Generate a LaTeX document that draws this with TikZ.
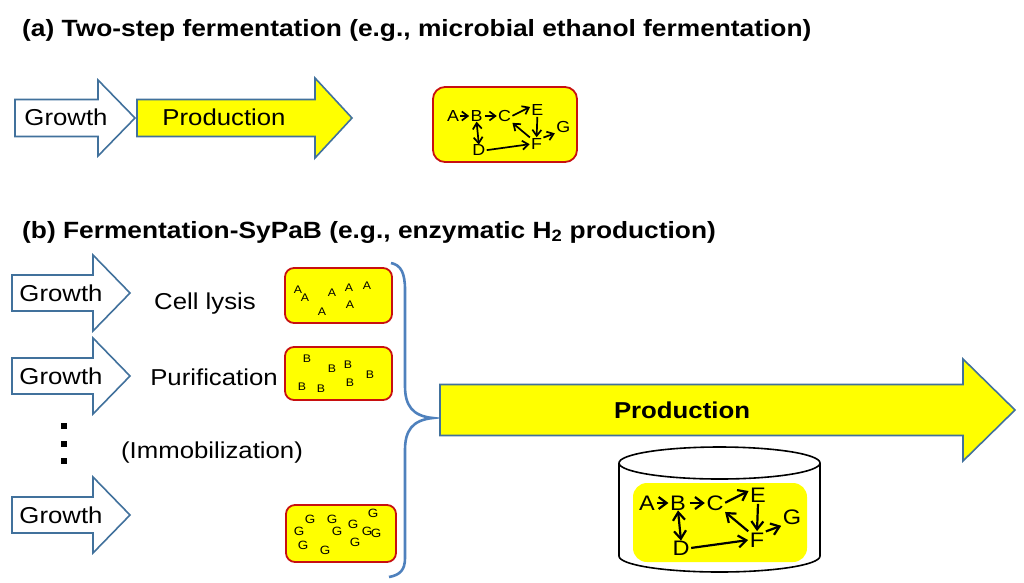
\documentclass[tikz,border=0pt]{standalone}
\usepackage{fontspec}
\setmainfont{Liberation Sans}[FakeStretch=1.12]
\usetikzlibrary{arrows.meta}
\definecolor{arrblue}{RGB}{65,113,156}
\definecolor{braceblue}{RGB}{79,129,189}
\definecolor{boxred}{RGB}{200,16,16}
\definecolor{yel}{RGB}{255,255,0}
\newcommand\blockarr[7]{% x0, xh, xt, yc, bh, hh, fill
  \draw[arrow line, fill=#7] (#1,#4-#5) -- (#2,#4-#5) -- (#2,#4-#6) -- (#3,#4) -- (#2,#4+#6) -- (#2,#4+#5) -- (#1,#4+#5) -- cycle;}
\newcommand\netw[6]{% shift, scale, prefix, line width, head length, head width
  \begin{scope}[shift={#1}, scale=#2, transform shape,
      na/.style={-{Straight Barb[length=#5,width=#6]}, line width=#4, shorten >=0.5pt, shorten <=0.5pt},
      nb/.style={{Straight Barb[length=#5,width=#6]}-{Straight Barb[length=#5,width=#6]}, line width=#4}]
    \node[lt] (#3A) at (0,0) {A};
    \node[lt] (#3B) at (31,0) {B};
    \node[lt] (#3C) at (68,0) {C};
    \node[lt] (#3E) at (111,-8) {E};
    \node[lt] (#3G) at (145,14) {G};
    \node[lt] (#3F) at (110,37) {F};
    \node[lt] (#3D) at (34,45) {D};
    \draw[na] (#3A.east) -- (#3B.west);
    \draw[na] ([xshift=2pt]#3B.east) -- (#3C.west);
    \draw[na] (#3C.east) -- (#3E.155);
    \draw[na] (#3E.south) -- (#3F.north);
    \draw[na] (#3F.north west) -- (#3C.south east);
    \draw[na] (#3D.east) -- (#3F.west);
    \draw[na] (#3F.north east) -- (#3G.south west);
    \draw[nb] ([yshift=1pt]#3B.south) -- ([yshift=-1pt]#3D.north);
  \end{scope}}
\begin{document}
\begin{tikzpicture}[x=1pt,y=-1pt,
  arrow line/.style={draw=arrblue, line width=1.6pt, line join=miter},
  lbl/.style={font=\fontsize{23}{23}\selectfont, inner sep=0pt},
  title/.style={font=\fontsize{23.5}{24}\selectfont\bfseries, anchor=west, inner sep=0pt},
  lt/.style={font=\fontsize{21}{21}\selectfont, inner sep=1pt},
  redbox/.style={draw=boxred, fill=yel, line width=1.8pt, rounded corners=9pt},
  small/.style={font=\fontsize{11}{11}\selectfont, inner sep=0pt},
  brace/.style={draw=braceblue, line width=2.6pt}]
\useasboundingbox (0,0) rectangle (1024,582);

% (a)
\node[title] (ta) at (22,30) {(a) Two-step fermentation (e.g., microbial ethanol fermentation)};
\blockarr{15}{98}{135}{118}{18.5}{38}{white}
\node[lbl] (ga) at (66,117) {Growth};
\blockarr{137}{315}{352}{118}{18.5}{40}{yel}
\node[lbl] (pa) at (224,117) {Production};
\draw[redbox, rounded corners=12pt] (433,87) rectangle (577,162);
\netw{(453,116)}{0.76}{a}{1.7pt}{6pt}{9pt}

% (b)
\node[title] (tb) at (22,232) {(b) Fermentation-SyPaB (e.g., enzymatic H\textsubscript{2} production)};
\blockarr{12}{93}{130}{293}{18}{38}{white}
\node[lbl] (g1) at (61,293) {Growth};
\blockarr{12}{93}{130}{376}{18}{38}{white}
\node[lbl] (g2) at (61,376) {Growth};
\blockarr{12}{93}{130}{515}{18}{38}{white}
\node[lbl] (g3) at (61,515) {Growth};

\fill (61,423) rectangle (67,429);
\fill (61,441) rectangle (67,447);
\fill (61,458) rectangle (67,464);

\node[lbl] (cl) at (205,304) {Cell lysis};
\node[lbl] (pu) at (214,377) {Purification};
\node[lbl] (im) at (212,453) {(Immobilization)};

% box A
\draw[redbox] (285,268) rectangle (392,323);
\foreach \x/\y [count=\i] in {298/290, 305/298, 332/293, 349/288, 367/286, 322/312, 350/305}
  \node[small] (a\i) at (\x,\y) {A};
% box B
\draw[redbox] (285,347) rectangle (392,400);
\foreach \x/\y [count=\i] in {307/359, 332/369, 348/365, 370/375, 302/387, 321/389, 350/383}
  \node[small] (b\i) at (\x,\y) {B};
% box G
\draw[redbox] (286,505) rectangle (396,562);
\foreach \x/\y [count=\i] in {310/519, 332/519, 373/513, 299/531, 337/531, 353/524, 367/531, 376/533, 355/542, 303/545, 325/550}
  \node[small, font=\fontsize{12}{12}\selectfont] (g\i) at (\x,\y) {G};

% brace
\draw[brace] (391,263) .. controls (401,265) and (405,273) .. (405,290) -- (405,386)
  .. controls (405,405) and (412,416) .. (433,418)
  .. controls (412,420) and (405,431) .. (405,450) -- (405,558)
  .. controls (405,570) and (400,575) .. (389,577);

% big production arrow
\blockarr{440}{963}{1015}{410}{25.5}{51}{yel}
\node[lbl, font=\fontsize{23}{23}\selectfont\bfseries] (pb) at (682,410) {Production};

% cylinder
\fill[yel, rounded corners=14pt] (633,483) rectangle (807,562);
\draw[line width=1.6pt] (619,463) -- (619,556) arc[start angle=180, end angle=0, x radius=100.5, y radius=16] -- (820,463);
\draw[line width=1.6pt] (719.5,463) ellipse[x radius=100.5, y radius=16];
\netw{(647,503)}{1}{c}{2.2pt}{8pt}{12pt}
\end{tikzpicture}
\end{document}
